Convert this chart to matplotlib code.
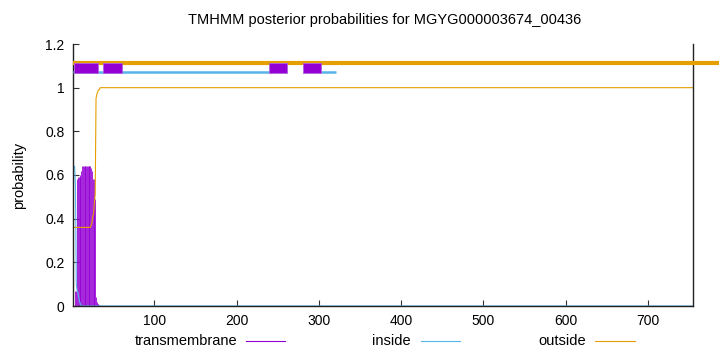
import numpy as np
import matplotlib
matplotlib.use("Agg")
import matplotlib.pyplot as plt
from matplotlib.lines import Line2D

plt.rcParams['font.family'] = ['Liberation Sans', 'DejaVu Sans']

title = "TMHMM posterior probabilities for MGYG000003674_00436"
seq_len = 755

# posterior probabilities for the first residues (rest: tm=0, inside=0, outside=1)
tm_head = [0, 0, 0, 0.07, 0.07, 0.58, 0.59, 0.59, 0.59, 0.60, 0.62, 0.64, 0.64,
           0.64, 0.64, 0.64, 0.64, 0.64, 0.64, 0.64, 0.64, 0.64, 0.63, 0.62,
           0.58, 0.58, 0.49, 0.49, 0.04, 0.02, 0.01, 0.01, 0.005, 0, 0]
inside_head = [0.64, 0.64, 0.64, 0.55, 0.10, 0.07, 0.06, 0.04, 0.02, 0.01, 0,
               0, 0, 0, 0, 0, 0, 0, 0, 0, 0, 0, 0, 0, 0, 0, 0, 0, 0, 0, 0, 0,
               0, 0, 0]
outside_head = [0.36, 0.36, 0.36, 0.36, 0.36, 0.36, 0.36, 0.36, 0.36, 0.36,
                0.36, 0.36, 0.36, 0.36, 0.36, 0.36, 0.36, 0.36, 0.36, 0.36,
                0.36, 0.36, 0.37, 0.38, 0.41, 0.42, 0.47, 0.51, 0.95, 0.97,
                0.98, 0.99, 0.99, 1.0, 1.0]

# topology bars at top
tm_segments = [(2, 31), (38, 61), (239, 261), (281, 303)]
inside_segments = [(1, 239), (303, 321)]
outside_segments = [(1, 787)]

xticks = [100, 200, 300, 400, 500, 600, 700]
yticks = [0, 0.2, 0.4, 0.6, 0.8, 1.0, 1.2]
ytick_labels = ["0", "0.2", "0.4", "0.6", "0.8", "1", "1.2"]
legend_labels = ["transmembrane", "inside", "outside"]

PURPLE = "#9400D3"
BLUE = "#56B4E9"
ORANGE = "#E69F00"

n = len(tm_head)
res = np.arange(1, seq_len + 1)
tm = np.zeros(seq_len); tm[:n] = tm_head
inside = np.zeros(seq_len); inside[:n] = inside_head
outside = np.ones(seq_len); outside[:n] = outside_head

W, H = 720, 352
fig = plt.figure(figsize=(W / 100, H / 100), dpi=100)
ax = fig.add_axes([73 / W, 46 / H, 620 / W, 262 / H])

# topology bars
for a, b in outside_segments:
    ax.plot([a, b], [1.112, 1.112], color=ORANGE, lw=3.0, solid_capstyle='butt',
            clip_on=False, zorder=3)
for a, b in inside_segments:
    ax.plot([a, b], [1.07, 1.07], color=BLUE, lw=1.8, solid_capstyle='butt',
            zorder=3)
ax.broken_barh([(a, b - a) for a, b in tm_segments], (1.067, 0.046),
               facecolors=PURPLE, edgecolor='#b060e0', lw=0.6, zorder=4)

# posterior curves
ax.vlines(res[tm > 0], 0, tm[tm > 0], color=PURPLE, lw=0.6, zorder=2)
ax.plot(res, inside, color=BLUE, lw=0.8, zorder=2)
ax.plot(res, outside, color=ORANGE, lw=0.8, zorder=2)

ax.set_xlim(1, seq_len)
ax.set_ylim(0, 1.2)
ax.set_xticks(xticks)
ax.set_xticklabels([str(t) for t in xticks])
ax.set_yticks(yticks)
ax.set_yticklabels(ytick_labels)
ax.tick_params(direction='in', length=4, labelsize=10, color='#333333', pad=6)
ax.spines['top'].set_visible(False)
for s in ['left', 'bottom', 'right']:
    ax.spines[s].set_color('#222222')
    ax.spines[s].set_linewidth(1.0)

ax.set_ylabel("probability", fontsize=10.5, labelpad=14)
fig.text(385 / W, 1 - 20 / H, title, ha='center', va='center', fontsize=10.5)

# key in a single row below the axes (gnuplot style: text then sample line)
key_text_right = [237, 411, 586]
key_line = [(246, 285), (421, 460), (595, 635)]
key_y = 1 - 341 / H
for lab, tx, (l0, l1), col in zip(legend_labels, key_text_right, key_line,
                                  [PURPLE, BLUE, ORANGE]):
    fig.text(tx / W, key_y, lab, ha='right', va='center', fontsize=10.5)
    fig.add_artist(Line2D([l0 / W, l1 / W], [key_y, key_y], color=col, lw=0.8,
                          transform=fig.transFigure))

fig.savefig("out.png", dpi=100)
